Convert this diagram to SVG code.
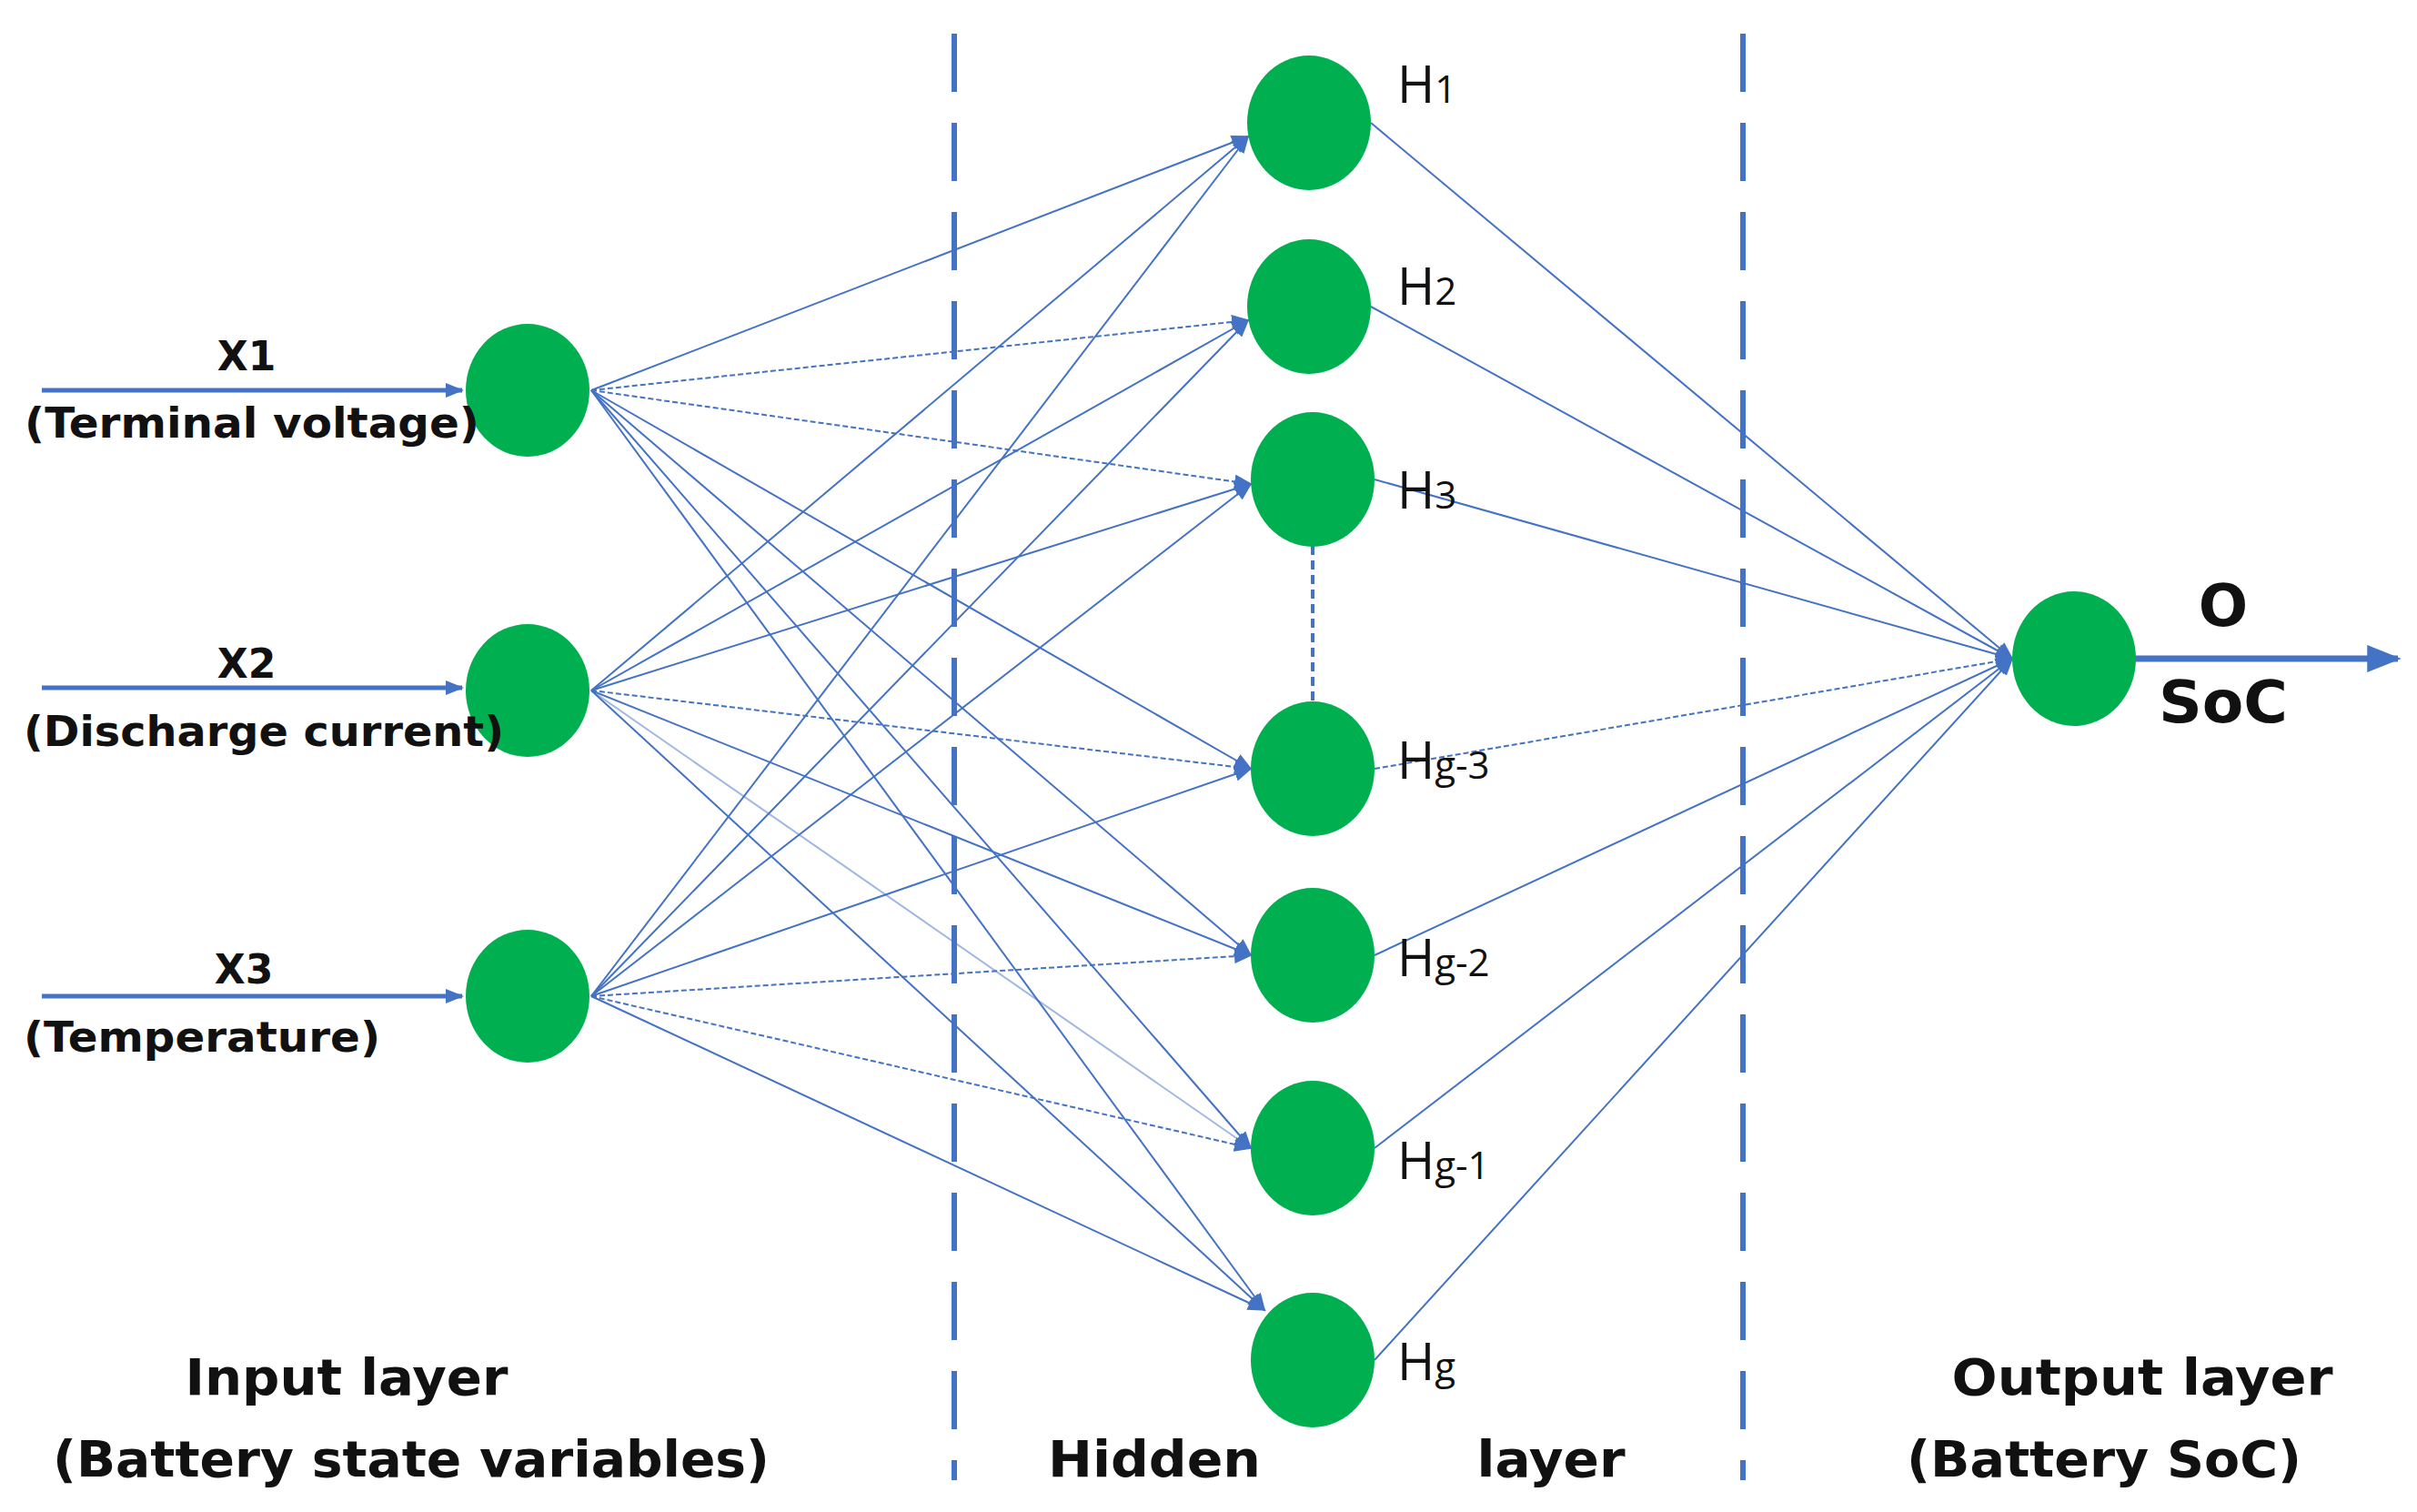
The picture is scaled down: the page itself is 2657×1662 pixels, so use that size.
<svg xmlns="http://www.w3.org/2000/svg" width="2657" height="1662" viewBox="0 0 2657 1662">
<style>
.n{fill:#00B050}
.c{stroke:#4472C4;stroke-width:2;fill:none}
.t{font-family:"DejaVu Sans","Liberation Sans",Arial,sans-serif;font-weight:bold;fill:#111}
.h{font-family:"Open Sans","Liberation Sans",Arial,sans-serif;fill:#111;font-size:56px}
.sep{stroke:#4472C4;stroke-width:6;stroke-dasharray:64 34;fill:none}
</style>
<defs>
<marker id="b" viewBox="0 0 10 8" refX="9" refY="4" markerWidth="20" markerHeight="16" orient="auto" markerUnits="userSpaceOnUse"><path d="M0,0L10,4L0,8z" fill="#4472C4"/></marker>
<marker id="big" viewBox="0 0 10 8" refX="9" refY="4" markerWidth="40" markerHeight="30" orient="auto" markerUnits="userSpaceOnUse"><path d="M0,0L10,4L0,8z" fill="#4472C4"/></marker>
</defs>
<g id="separators">
<line class="sep" x1="1049" y1="37" x2="1049" y2="1627"/>
<line class="sep" x1="1916" y1="37" x2="1916" y2="1627"/>
</g>
<g id="connectors" class="c" stroke="#4472C4" stroke-width="2" marker-end="url(#b)">
<line x1="46" y1="429" x2="508" y2="429" stroke-width="5"/>
<line x1="46" y1="756" x2="508" y2="756" stroke-width="5"/>
<line x1="46" y1="1095" x2="508" y2="1095" stroke-width="5"/>
<line x1="650" y1="429" x2="1372" y2="150"/>
<line x1="650" y1="429" x2="1372" y2="352" stroke-dasharray="6 3"/>
<line x1="650" y1="429" x2="1375" y2="532" stroke-dasharray="6 3"/>
<line x1="650" y1="429" x2="1375" y2="845"/>
<line x1="650" y1="429" x2="1375" y2="1050"/>
<line x1="650" y1="429" x2="1375" y2="1262"/>
<line x1="650" y1="429" x2="1390" y2="1440"/>
<line x1="650" y1="759" x2="1372" y2="150"/>
<line x1="650" y1="759" x2="1372" y2="352"/>
<line x1="650" y1="759" x2="1375" y2="532"/>
<line x1="650" y1="759" x2="1375" y2="845" stroke-dasharray="6 3"/>
<line x1="650" y1="759" x2="1375" y2="1050"/>
<line x1="650" y1="759" x2="1375" y2="1262" stroke-opacity="0.5"/>
<line x1="650" y1="759" x2="1390" y2="1440"/>
<line x1="650" y1="1095" x2="1372" y2="150"/>
<line x1="650" y1="1095" x2="1372" y2="352"/>
<line x1="650" y1="1095" x2="1375" y2="532"/>
<line x1="650" y1="1095" x2="1375" y2="845"/>
<line x1="650" y1="1095" x2="1375" y2="1050" stroke-dasharray="6 3"/>
<line x1="650" y1="1095" x2="1375" y2="1262" stroke-dasharray="6 3"/>
<line x1="650" y1="1095" x2="1390" y2="1440"/>
<line x1="1507" y1="135" x2="2212" y2="724"/>
<line x1="1507" y1="337" x2="2212" y2="724"/>
<line x1="1511" y1="527" x2="2212" y2="724"/>
<line x1="1511" y1="845" x2="2212" y2="724" stroke-dasharray="6 3"/>
<line x1="1511" y1="1050" x2="2212" y2="724"/>
<line x1="1511" y1="1262" x2="2212" y2="724"/>
<line x1="1511" y1="1495" x2="2212" y2="724"/>
<line x1="2345" y1="724" x2="2636" y2="724" stroke-width="7" marker-end="url(#big)"/>
<line x1="1443" y1="600" x2="1443" y2="772" stroke-width="4" stroke-dasharray="10 6" marker-end="none"/>
</g>
<g id="input-nodes">
<ellipse id="x1" class="n" cx="580" cy="429" rx="68" ry="73"/>
<ellipse id="x2" class="n" cx="580" cy="759" rx="68" ry="73"/>
<ellipse id="x3" class="n" cx="580" cy="1095" rx="68" ry="73"/>
</g>
<g id="hidden-nodes">
<ellipse id="h1" class="n" cx="1439" cy="135" rx="68" ry="74"/>
<ellipse id="h2" class="n" cx="1439" cy="337" rx="68" ry="74"/>
<ellipse id="h3" class="n" cx="1443" cy="527" rx="68" ry="74"/>
<ellipse id="hg3" class="n" cx="1443" cy="845" rx="68" ry="74"/>
<ellipse id="hg2" class="n" cx="1443" cy="1050" rx="68" ry="74"/>
<ellipse id="hg1" class="n" cx="1443" cy="1262" rx="68" ry="74"/>
<ellipse id="hg" class="n" cx="1443" cy="1495" rx="68" ry="74"/>
</g>
<g id="output-node">
<ellipse id="o" class="n" cx="2280" cy="724" rx="68" ry="74"/>
</g>
<g id="labels">
<text class="t" x="271" y="407" font-size="44" text-anchor="middle">X1</text>
<text class="t" x="277" y="481" font-size="46" text-anchor="middle" textLength="500" lengthAdjust="spacingAndGlyphs">(Terminal voltage)</text>
<text class="t" x="271" y="745" font-size="44" text-anchor="middle">X2</text>
<text class="t" x="290" y="820" font-size="46" text-anchor="middle" textLength="528" lengthAdjust="spacingAndGlyphs">(Discharge current)</text>
<text class="t" x="268" y="1081" font-size="44" text-anchor="middle">X3</text>
<text class="t" x="222" y="1156" font-size="46" text-anchor="middle" textLength="392" lengthAdjust="spacingAndGlyphs">(Temperature)</text>
<text class="h" x="1536" y="113">H<tspan font-size="42">1</tspan></text>
<text class="h" x="1536" y="335">H<tspan font-size="42">2</tspan></text>
<text class="h" x="1536" y="559">H<tspan font-size="42">3</tspan></text>
<text class="h" x="1536" y="856">H<tspan font-size="42">g-3</tspan></text>
<text class="h" x="1536" y="1073">H<tspan font-size="42">g-2</tspan></text>
<text class="h" x="1536" y="1296">H<tspan font-size="42">g-1</tspan></text>
<text class="h" x="1536" y="1517">H<tspan font-size="42">g</tspan></text>
<text class="t" x="2444" y="688" font-size="64" text-anchor="middle">O</text>
<text class="t" x="2444" y="794" font-size="64" text-anchor="middle" textLength="142" lengthAdjust="spacingAndGlyphs">SoC</text>
<text class="t" x="381" y="1533" font-size="56" text-anchor="middle" textLength="355" lengthAdjust="spacingAndGlyphs">Input layer</text>
<text class="t" x="452" y="1623" font-size="56" text-anchor="middle" textLength="788" lengthAdjust="spacingAndGlyphs">(Battery state variables)</text>
<text class="t" x="1269" y="1623" font-size="56" text-anchor="middle" textLength="234" lengthAdjust="spacingAndGlyphs">Hidden</text>
<text class="t" x="1705" y="1623" font-size="56" text-anchor="middle" textLength="163" lengthAdjust="spacingAndGlyphs">layer</text>
<text class="t" x="2355" y="1533" font-size="56" text-anchor="middle" textLength="419" lengthAdjust="spacingAndGlyphs">Output layer</text>
<text class="t" x="2313" y="1623" font-size="56" text-anchor="middle" textLength="434" lengthAdjust="spacingAndGlyphs">(Battery SoC)</text>
</g>
</svg>
